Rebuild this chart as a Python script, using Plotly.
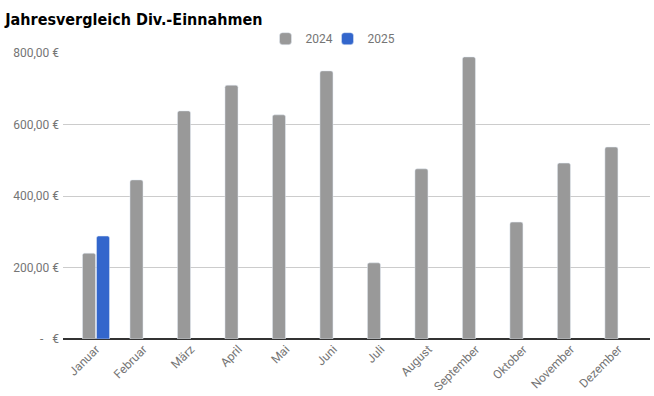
import plotly.graph_objects as go

months = ["Januar", "Februar", "März", "April", "Mai", "Juni", "Juli",
          "August", "September", "Oktober", "November", "Dezember"]
values_2024 = [240, 445, 638, 710, 627, 750, 213, 476, 789, 327, 492, 537]
values_2025 = [288, None, None, None, None, None, None, None, None, None, None, None]
y_tickvals = [0, 200, 400, 600, 800]
y_ticktext = ["-   €", "200,00 €", "400,00 €", "600,00 €", "800,00 €"]

fig = go.Figure()
fig.add_trace(go.Bar(name="2024", x=months, y=values_2024, marker_color="#999999",
                     legend="legend", showlegend=True))
fig.add_trace(go.Bar(name="2025", x=months, y=values_2025, marker_color="#3366cc",
                     legend="legend2", showlegend=True))

legend_style = dict(orientation="h", xanchor="left", y=1.05, yanchor="middle",
                    font=dict(size=12, color="#757575"), itemwidth=30,
                    bgcolor="rgba(0,0,0,0)", visible=True)

fig.update_layout(
    width=654, height=396,
    showlegend=True,
    paper_bgcolor="white", plot_bgcolor="white",
    margin=dict(l=63, r=4, t=53, b=57, autoexpand=False),
    barmode="group", bargap=0.41, bargroupgap=0.07, barcornerradius=2,
    font=dict(family="Roboto, Arial, sans-serif", color="#757575", size=12),
    title=dict(text="<b>Jahresvergleich Div.-Einnahmen</b>", x=0.008, xanchor="left",
               y=0.952, yanchor="middle",
               font=dict(family="DejaVu Sans Condensed, DejaVu Sans, sans-serif",
                         size=16, color="#000000")),
    legend=dict(x=0.345, **legend_style),
    legend2=dict(x=0.4506, **legend_style),
    xaxis=dict(type="category", range=[-0.695, 11.665], tickangle=-45,
               tickfont=dict(size=12, color="#757575"), showgrid=False,
               showline=False, ticks="", automargin=False),
    yaxis=dict(range=[0, 800], tickvals=y_tickvals, ticktext=y_ticktext,
               gridcolor="#cccccc", gridwidth=1, zeroline=True, zerolinecolor="#333333",
               zerolinewidth=1.5, tickfont=dict(size=12, color="#757575"),
               ticks="", automargin=False, ticklabelstandoff=3),
)

fig.write_html("out.html", config={"displayModeBar": False},
               post_script="document.body.style.margin='0';")
